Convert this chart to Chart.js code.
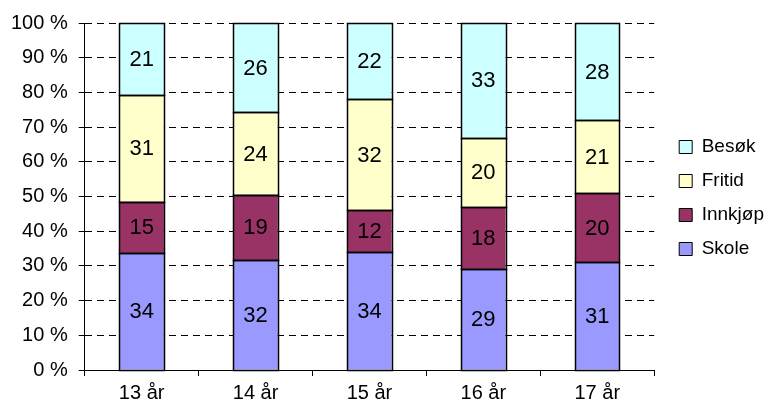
<!DOCTYPE html>
<html>
<head>
<meta charset="utf-8">
<script src="https://cdn.jsdelivr.net/npm/chart.js@4/dist/chart.umd.min.js"></script>
<style>
  html, body { margin: 0; padding: 0; background: #fff; }
  canvas { display: block; }
</style>
</head>
<body>
<canvas id="chart" width="767" height="410"></canvas>
<script>
// Age groups along the x axis
const categories = ['13 år', '14 år', '15 år', '16 år', '17 år'];

// Share of trips per purpose (per cent), one array per series
const skole    = [34, 32, 34, 29, 31];
const innkjop  = [15, 19, 12, 18, 20];
const fritid   = [31, 24, 32, 20, 21];
const besok    = [21, 26, 22, 33, 28];

// Y axis tick spacing (per cent)
const yStep = 10;

const seriesNames  = ['Skole', 'Innkjøp', 'Fritid', 'Besøk'];
const seriesValues = [skole, innkjop, fritid, besok];
const seriesColors = ['#9999FF', '#993366', '#FFFFCC', '#CCFFFF'];

// 100 % stacking: each column is scaled to its own total
const totals = categories.map((_, i) => seriesValues.reduce((s, arr) => s + arr[i], 0));

const FONT = '"Liberation Sans", Arial, sans-serif';

const datasets = seriesNames.map((name, k) => ({
  label: name,
  data: seriesValues[k].map((v, i) => v / totals[i] * 100),
  rawValues: seriesValues[k],
  backgroundColor: seriesColors[k],
  borderWidth: 0,
  inflateAmount: 0,
  categoryPercentage: 1.0,
  barPercentage: 0.39
}));

// Outlines every bar segment and writes its value in the middle
const segmentDecor = {
  id: 'segmentDecor',
  afterDatasetsDraw(chart) {
    const ctx = chart.ctx;
    ctx.save();
    ctx.strokeStyle = '#000';
    ctx.lineWidth = 1.5;
    chart.data.datasets.forEach((ds, di) => {
      chart.getDatasetMeta(di).data.forEach(bar => {
        const p = bar.getProps(['x', 'y', 'base', 'width'], true);
        const l = Math.round(p.x - p.width / 2) + 0.5;
        const r = Math.round(p.x + p.width / 2) + 0.5;
        const t = Math.round(p.y) + 0.5;
        const b = Math.round(p.base) + 0.5;
        ctx.strokeRect(l, t, r - l, b - t);
      });
    });
    ctx.font = '22px ' + FONT;
    ctx.fillStyle = '#000';
    ctx.textAlign = 'center';
    ctx.textBaseline = 'middle';
    chart.data.datasets.forEach((ds, di) => {
      chart.getDatasetMeta(di).data.forEach((bar, i) => {
        const p = bar.getProps(['x', 'y', 'base'], true);
        ctx.fillText(String(ds.rawValues[i]), p.x, (p.y + p.base) / 2 + 1);
      });
    });
    ctx.restore();
  }
};

// Nudges the legend block away from the plot area and up a little
const legendOffset = {
  id: 'legendOffset',
  afterLayout(chart) {
    const lg = chart.legend;
    if (lg) {
      lg.left += 10; lg.right += 10;
      lg.top -= 18; lg.bottom -= 18;
    }
  }
};

new Chart(document.getElementById('chart'), {
  type: 'bar',
  data: { labels: categories, datasets },
  plugins: [segmentDecor, legendOffset],
  options: {
    responsive: false,
    animation: false,
    devicePixelRatio: 1,
    layout: { padding: { top: 22, left: 0, right: 3, bottom: 0 } },
    plugins: {
      tooltip: { enabled: false },
      legend: {
        position: 'right',
        reverse: true,
        labels: {
          color: '#000',
          font: { family: FONT, size: 19 },
          boxWidth: 13,
          boxHeight: 13,
          padding: 15,
          generateLabels(chart) {
            return chart.data.datasets.map((ds, i) => ({
              text: ds.label,
              fillStyle: ds.backgroundColor,
              strokeStyle: '#000',
              lineWidth: 1,
              datasetIndex: i,
              hidden: false
            }));
          }
        }
      }
    },
    scales: {
      x: {
        stacked: true,
        grid: {
          offset: true,
          drawOnChartArea: false,
          drawTicks: true,
          tickLength: 6,
          tickColor: '#000',
          color: '#000'
        },
        border: { display: true, color: '#000', width: 1 },
        ticks: {
          color: '#000',
          font: { family: FONT, size: 20, lineHeight: 1 },
          padding: 7,
          maxRotation: 0
        }
      },
      y: {
        stacked: true,
        min: 0,
        max: 100,
        grid: {
          display: true,
          drawOnChartArea: true,
          color: '#000',
          lineWidth: 1,
          drawTicks: true,
          tickLength: 6,
          tickColor: '#000',
          tickWidth: 1,
          tickBorderDash: []
        },
        border: { display: true, color: '#000', width: 1, dash: [7, 5] },
        ticks: {
          stepSize: yStep,
          color: '#000',
          font: { family: FONT, size: 20 },
          padding: 11,
          callback: v => v + ' %'
        }
      }
    }
  }
});
</script>
</body>
</html>
